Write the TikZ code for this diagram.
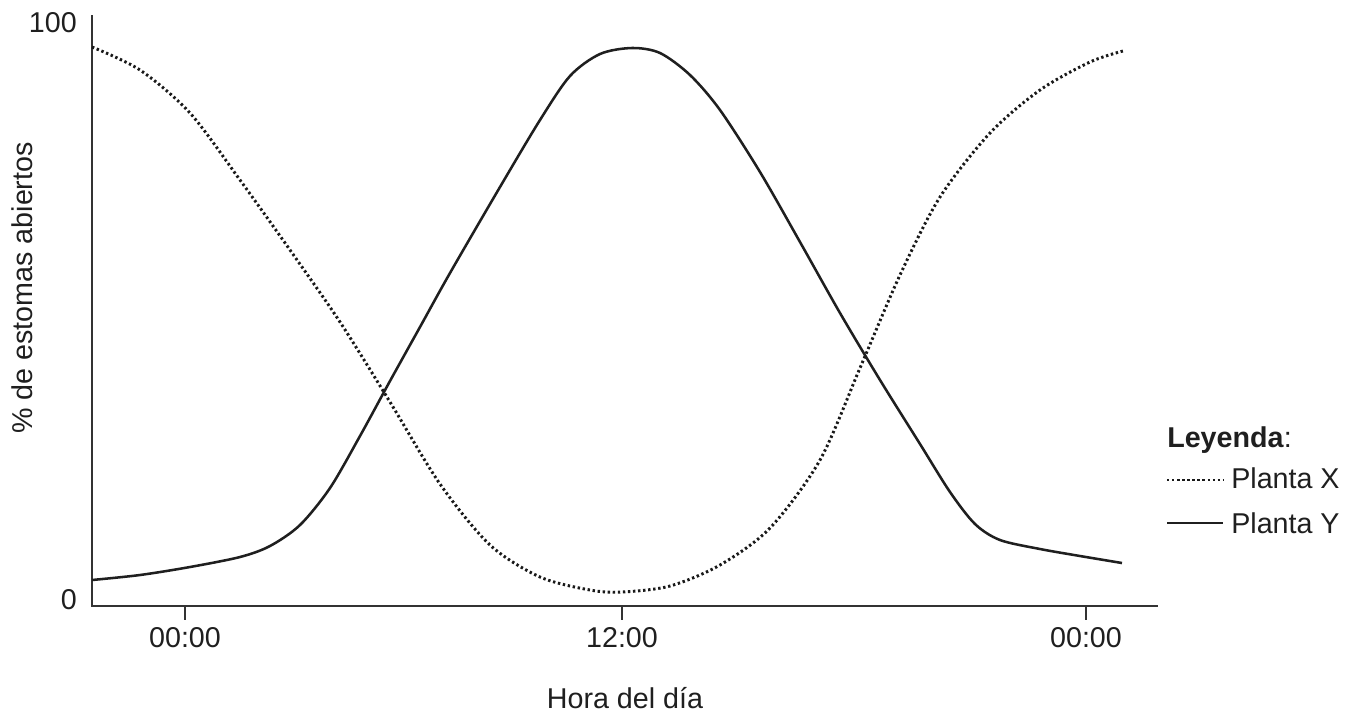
\documentclass[tikz,border=0pt]{standalone}
\usepackage{fontspec}
\setmainfont{Liberation Sans}
\newcommand{\lbsize}{\fontsize{21.5}{25}\selectfont}

\begin{document}
\begin{tikzpicture}[x=0.75pt,y=-0.75pt,
   eje/.style={line width=1.1pt,black!80},
   plantax/.style={line width=2.2pt,black!90,dash pattern=on 1.8pt off 2pt},
   plantay/.style={line width=1.9pt,black!88},
   lbl/.style={font=\lbsize,text=black!88,inner sep=0pt}]
   \useasboundingbox (0,0) rectangle (1359,715);
   % ejes
   \coordinate (o) at (92,606);
   \coordinate (ytop) at (92,15);
   \coordinate (xend) at (1158,606);
   \draw[eje] (ytop) -- (o) -- (xend);
   \foreach \x/\t/\n in {185/00:00/a,622/12:00/b,1086/00:00/c} {
    \coordinate (tick\n) at (\x,606);
    \draw[eje] (tick\n) -- ++(0,14);
    \node[lbl] (hora\n) at (\x,638) {\t};
   }
   \node[lbl,anchor=east] (cien) at (77,23) {100};
   \node[lbl,anchor=east] (cero) at (77,600) {0};
   \node[lbl] (xlabel) at (625,698) {Hora del día};
   \node[lbl,rotate=90] (ylabel) at (22,288) {\% de estomas abiertos};
   % curvas
   \draw[plantax] plot[smooth] coordinates {
    (92,47) (140,70) (190,113) (240,180) (290,250) (340,322) (390,402)
    (440,484) (490,545) (540,577) (590,590) (622,592) (670,586) (720,565)
    (770,528) (820,460) (860,368) (900,275) (940,197) (990,133) (1040,90)
    (1090,62) (1123,51)};
   \draw[plantay] plot[smooth] coordinates {
    (92,580) (140,575) (190,567) (240,557) (270,546) (300,525) (330,488)
    (360,436) (390,381) (420,327) (450,273) (500,187) (540,120) (570,76)
    (600,54) (632,48) (660,53) (690,75) (720,110) (760,172) (800,242)
    (840,313) (880,380) (920,444) (950,492) (975,524) (1000,540) (1040,549)
    (1080,556) (1122,563)};
   % leyenda
   \node[lbl,anchor=base west] (leyenda) at (1167,447) {\textbf{Leyenda}:};
   \node[lbl,anchor=base west] (px) at (1231,488) {Planta X};
   \node[lbl,anchor=base west] (py) at (1231,533) {Planta Y};
   \coordinate (lx) at (1167,480);
   \coordinate (ly) at (1167,523);
   \draw[plantax] (lx) -- ++(56,0);
   \draw[plantay] (ly) -- ++(56,0);
  \end{tikzpicture}
\end{document}
